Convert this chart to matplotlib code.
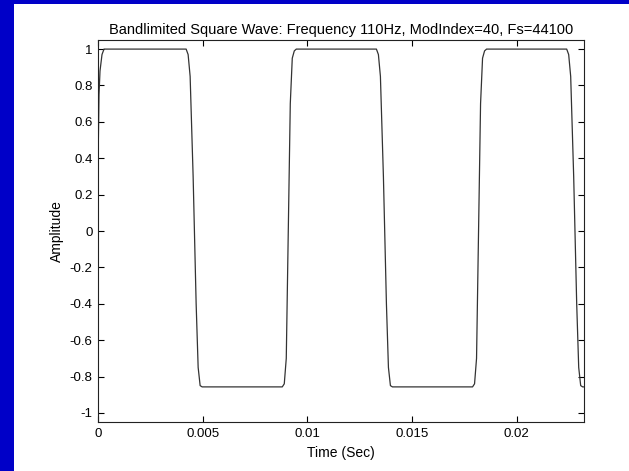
import numpy as np
import matplotlib.pyplot as plt
from matplotlib.patches import Rectangle

plt.rcParams['font.family'] = ['Liberation Sans', 'DejaVu Sans']

# waveform breakpoints (time in s, amplitude)
t_pts = [0.0, 0.000048, 0.000096, 0.000191, 0.000287,
         0.004211, 0.004306, 0.004402, 0.004545, 0.004689, 0.004785, 0.004880, 0.004976,
         0.008804, 0.008900, 0.008995, 0.009091, 0.009187, 0.009282, 0.009378, 0.009474,
         0.013302, 0.013397, 0.013493, 0.013636, 0.013780, 0.013876, 0.013971, 0.014067,
         0.017895, 0.017991, 0.018086, 0.018182, 0.018278, 0.018373, 0.018469, 0.018565,
         0.022393, 0.022488, 0.022584, 0.022727, 0.022871, 0.022967, 0.023062, 0.023158,
         0.023220]
y_pts = [0.35, 0.75, 0.88, 0.97, 1.0,
         1.0, 0.97, 0.85, 0.3, -0.4, -0.75, -0.85, -0.857,
         -0.857, -0.84, -0.7, 0.0, 0.7, 0.95, 0.99, 1.0,
         1.0, 0.97, 0.85, 0.3, -0.4, -0.75, -0.85, -0.857,
         -0.857, -0.84, -0.7, 0.0, 0.7, 0.95, 0.99, 1.0,
         1.0, 0.97, 0.85, 0.3, -0.4, -0.75, -0.85, -0.857,
         -0.857]

xticks = [0, 0.005, 0.01, 0.015, 0.02]
xticklabels = ['0', '0.005', '0.01', '0.015', '0.02']
yticks = [1, 0.8, 0.6, 0.4, 0.2, 0, -0.2, -0.4, -0.6, -0.8, -1]
yticklabels = ['1', '0.8', '0.6', '0.4', '0.2', '0', '-0.2', '-0.4', '-0.6', '-0.8', '-1']

fig = plt.figure(figsize=(6.29, 4.71), dpi=100)
fig.patch.set_facecolor('white')
# blue window frame on left and top
fig.patches.append(Rectangle((0, 0), 14/629, 1, transform=fig.transFigure,
                             facecolor='#0000C8', edgecolor='none', zorder=-1))
fig.patches.append(Rectangle((0, 1 - 4/471), 1, 4/471, transform=fig.transFigure,
                             facecolor='#0000C8', edgecolor='none', zorder=-1))

ax = fig.add_axes([98/629, 1 - 422/471, (584-98)/629, (422-40)/471])
ax.plot(t_pts, y_pts, color='#333333', lw=0.9)

ax.set_xlim(0, 0.02322)
ax.set_ylim(-1.05, 1.05)
ax.set_xticks(xticks)
ax.set_xticklabels(xticklabels)
ax.set_yticks(yticks)
ax.set_yticklabels(yticklabels)
ax.tick_params(direction='in', length=4, width=0.8, top=True, right=True,
               labelsize=9.5, pad=4)
for s in ax.spines.values():
    s.set_linewidth(0.8)
    s.set_color('#222222')

ax.set_title('Bandlimited Square Wave: Frequency 110Hz, ModIndex=40, Fs=44100',
             fontsize=10.5, pad=4)
ax.set_xlabel('Time (Sec)', fontsize=10, labelpad=5)
ax.set_ylabel('Amplitude', fontsize=10, labelpad=4)

fig.savefig('out.png', dpi=100)
